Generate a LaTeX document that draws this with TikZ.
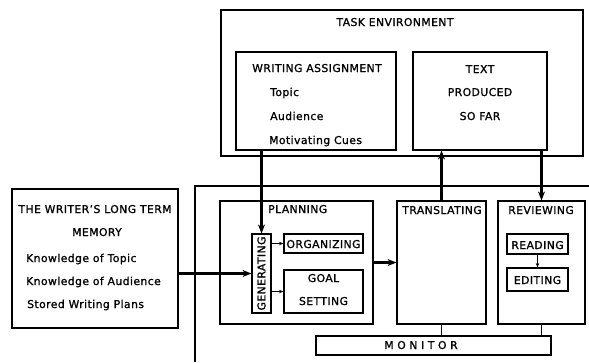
\documentclass[tikz,border=0pt]{standalone}
\usepackage{fontspec}
\setmainfont[LetterSpace=4,FakeBold=1.2]{DejaVu Sans}
\usetikzlibrary{positioning,arrows.meta}

\begin{document}
\begin{tikzpicture}[x=1pt,y=-1pt,
    box/.style 2 args={draw,line width=1.1pt,inner sep=0pt,minimum width=#1pt,minimum height=#2pt},
    lab/.style={inner sep=0pt,font=\fontsize{10.8}{12}\selectfont},
    flow/.style={line width=2.6pt,-{Stealth[length=9pt,width=7pt]}},
    link/.style={line width=1pt,-{Stealth[length=4.5pt,width=3.5pt]}}]
    \useasboundingbox (0,0) rectangle (589,362);

    % task environment
    \node[box={362}{146}] (task) at (402,83) {};
    \node[lab,anchor=base] (tasktitle) at (395,26) {TASK ENVIRONMENT};
    \node[box={160}{98}] (assign) at (316,101) {};
    \node[lab,anchor=base] (assigntitle) at (317,72) {WRITING ASSIGNMENT};
    \node[lab,anchor=base west] (topic) at (270,96) {Topic};
    \node[lab,anchor=base west] (audience) at (270,120) {Audience};
    \node[lab,anchor=base west] (cues) at (269,144) {Motivating Cues};
    \node[box={134}{98}] (textbox) at (480,101) {};
    \node[lab,anchor=base] (text1) at (480,73) {TEXT};
    \node[lab,anchor=base] (text2) at (480,96) {PRODUCED};
    \node[lab,anchor=base] (text3) at (480,120) {SO FAR};

    % long term memory
    \node[box={166}{139}] (memory) at (95,258.5) {};
    \node[lab,anchor=base] (mem1) at (95,213) {THE WRITER'S LONG TERM};
    \node[lab,anchor=base] (mem2) at (97,236) {MEMORY};
    \node[lab,anchor=base west] (mem3) at (26,262) {Knowledge of Topic};
    \node[lab,anchor=base west] (mem4) at (26,285) {Knowledge of Audience};
    \node[lab,anchor=base west] (mem5) at (27,308) {Stored Writing Plans};

    % writing processes
    \draw[line width=1.1pt] (195,362) -- (195,186) -- (589,186);
    \node[box={153}{123}] (planning) at (296.5,262.5) {};
    \node[lab,anchor=base west] (plantitle) at (268,213) {PLANNING};
    \node[box={19}{79}] (gen) at (261.5,273.5) {};
    \node[lab,rotate=90] (gentext) at (gen) {GENERATING};
    \node[box={79}{19}] (organizing) at (323.5,243.5) {};
    \node[lab,anchor=base] (orgtext) at (323.5,248) {ORGANIZING};
    \node[box={79}{43}] (goal) at (323.5,291.5) {};
    \node[lab,anchor=base] (goal1) at (323.5,282) {GOAL};
    \node[lab,anchor=base] (goal2) at (323.5,305) {SETTING};
    \node[box={89}{123}] (trans) at (441.5,262.5) {};
    \node[lab,anchor=base] (transtitle) at (442,214) {TRANSLATING};
    \node[box={87}{123}] (review) at (541.5,262.5) {};
    \node[lab,anchor=base] (reviewtitle) at (541,214) {REVIEWING};
    \node[box={61}{20}] (reading) at (537.5,244) {};
    \node[lab,anchor=base] (readtext) at (537.5,249) {READING};
    \node[box={61}{23}] (editing) at (537.5,279.5) {};
    \node[lab,anchor=base] (edittext) at (537.5,284) {EDITING};
    \node[box={235}{19}] (monitor) at (433.5,345.5) {};
    \node[lab,anchor=base] (montext) at (421,349) {M\,\,O\,\,N\,\,I\,\,T\,\,O\,\,R};

    % connections
    \draw[flow] (assign.south -| gen) -- (gen.north);
    \draw[flow] (memory.east |- gen) -- (gen.west);
    \draw[flow] (trans.north) -- (trans.north |- textbox.south);
    \draw[flow] (review.north |- textbox.south) -- (review.north);
    \draw[flow] (planning.east) -- (trans.west);
    \draw[link] (gen.east |- organizing) -- (organizing.west);
    \draw[link] (gen.east |- goal) -- (goal.west);
    \draw[link] (reading.south) -- (editing.north);
    \draw[line width=1.1pt] (planning.south -| organizing) -- (planning.south -| organizing |- monitor.north);
    \draw[line width=1.1pt] (trans.south) -- (trans.south |- monitor.north);
    \draw[line width=1.1pt] (review.south) -- (review.south |- monitor.north);
\end{tikzpicture}
\end{document}
